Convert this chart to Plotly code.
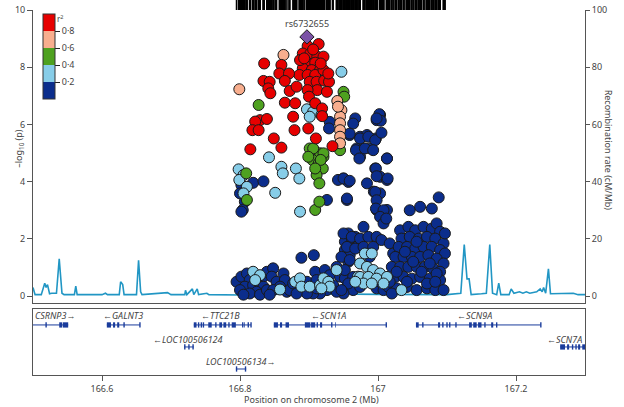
import plotly.graph_objects as go

# ---------------- data ----------------
lead_x = [166.897]
lead_y = [9.06]
lead_name = "rs6732655"

red_x = [166.898, 166.914, 166.891, 166.902, 166.912, 166.921, 166.896, 166.909, 166.891, 166.904,
         166.916, 166.886, 166.898, 166.909, 166.921, 166.901, 166.911, 166.922, 166.929, 166.912,
         166.926, 166.835, 166.860, 166.857, 166.871, 166.834, 166.843, 166.865, 166.841, 166.844,
         166.872, 166.882, 166.898, 166.900, 166.909, 166.919, 166.865, 166.880, 166.919, 166.829,
         166.839, 166.822, 166.818, 166.827, 166.877, 166.899, 166.910, 166.879, 166.849, 166.860,
         166.815, 166.934, 166.887, 166.906, 166.893, 166.917, 166.928]
red_y = [8.74, 8.81, 8.48, 8.48, 8.37, 8.37, 8.19, 8.16, 7.96, 7.90,
         7.90, 7.73, 7.73, 7.73, 7.90, 7.49, 7.49, 7.53, 7.49, 7.20,
         7.14, 8.13, 8.08, 7.78, 7.78, 7.52, 7.49, 7.52, 7.26, 7.09,
         7.17, 7.32, 7.20, 6.97, 6.74, 6.56, 6.76, 6.74, 6.29, 6.15,
         6.19, 6.10, 5.80, 5.80, 6.27, 5.86, 5.51, 5.80, 5.51, 5.19,
         5.13, 5.24, 8.25, 8.62, 8.31, 8.13, 7.78]

salmon_x = [166.863, 166.799, 166.941, 166.947, 166.945, 166.945, 166.945, 166.945, 166.945, 166.942]
salmon_y = [8.43, 7.23, 6.82, 6.50, 6.27, 6.04, 5.80, 5.57, 5.34, 6.62]

green_x = [166.827, 166.950, 166.951, 166.945, 166.901, 166.909, 166.916, 166.921, 166.905, 166.914,
           166.920, 166.911, 166.915, 166.906, 166.921, 166.899, 166.917, 166.909, 166.809, 166.810,
           166.909, 166.915]
green_y = [6.68, 7.14, 6.97, 5.10, 5.16, 5.05, 4.99, 4.87, 4.76, 4.64,
           4.46, 4.23, 3.94, 5.16, 4.99, 4.87, 4.76, 4.46, 4.29, 3.36,
           3.01, 3.30]

light_x = [166.947, 166.897, 166.906, 166.918, 166.901, 166.842, 166.860, 166.862, 166.881, 166.886,
           166.851, 166.887, 166.798, 166.805, 166.799, 166.810, 166.805,
           166.819, 166.829, 166.822, 166.858, 166.880, 166.887, 166.889, 166.901, 166.916, 166.921,
           166.928, 166.930, 166.940, 166.918, 166.971,
           166.981, 166.991, 166.974, 166.984, 166.993, 167.003, 166.974, 166.986, 166.998, 167.013,
           166.979, 166.991, 167.008, 166.967, 167.034]
light_y = [7.84, 6.53, 6.44, 6.33, 6.27, 4.85, 4.52, 4.29, 4.46, 4.11,
           3.61, 2.95, 4.43, 4.23, 4.06, 3.82, 3.59,
           0.85, 0.73, 0.56, 0.23, 0.50, 0.62, 0.33, 0.33, 0.38, 0.62,
           0.50, 0.33, 0.91, 0.27, 0.68,
           1.49, 1.49, 1.14, 1.02, 0.91, 0.79, 0.67, 0.67, 0.61, 0.67,
           0.44, 0.44, 0.44, 0.50, 0.21]

dark_x = [166.930, 166.929, 166.967, 167.003, 166.998, 166.959, 166.974, 166.984, 166.997, 166.969,
          166.979, 166.989, 166.974, 167.013, 166.996, 167.003, 166.950, 166.957, 166.942, 166.984,
          166.994, 167.003, 167.013, 166.955, 166.926, 166.819, 166.834, 166.802, 166.800, 166.807,
          166.804, 166.998, 167.007, 167.013,
          166.964, 167.002, 167.004, 166.998, 166.959, 166.974, 166.986, 166.996, 167.005, 166.968,
          166.981, 166.993, 166.973, 167.013, 166.997, 166.998, 167.014, 166.950, 166.959, 166.996,
          166.955, 166.998, 166.997, 167.008, 167.003, 167.008, 167.012, 167.088, 167.046, 167.061,
          167.078, 166.979, 166.967,
          166.802, 166.889, 166.907, 166.957, 166.952, 166.962, 166.952, 166.959, 166.957, 166.969,
          166.795, 166.802, 166.810, 166.814, 166.807, 166.819, 166.827, 166.834, 166.839, 166.848,
          166.846, 166.853, 166.863, 166.865, 166.858, 166.834, 166.824, 166.814, 166.829, 166.839,
          166.848, 166.868, 166.872, 166.800, 166.805, 166.843,
          166.877, 166.887, 166.897, 166.909, 166.911, 166.923, 166.930, 166.940, 166.945, 166.935,
          166.926, 166.916, 166.906, 166.897, 166.882, 166.955, 166.964, 166.950, 166.940, 166.971,
          166.911, 166.952,
          166.950, 166.962, 166.974, 166.986, 166.998, 167.005, 166.955, 166.967, 166.979, 166.947,
          166.959, 166.952, 166.964, 166.957, 166.947, 166.974, 166.998, 167.008, 167.003, 166.988,
          166.993, 167.017, 167.022,
          167.032, 167.044, 167.054, 167.066, 167.078, 167.085, 167.090, 167.034, 167.046, 167.059,
          167.071, 167.083, 167.095, 167.030, 167.042, 167.054, 167.066, 167.078, 167.090, 167.097,
          167.025, 167.037, 167.049, 167.061, 167.073, 167.085, 167.095, 167.020, 167.032, 167.044,
          167.056, 167.068, 167.080, 167.090, 167.025, 167.037, 167.049, 167.061, 167.075, 167.090,
          167.015, 167.027, 167.042, 167.056, 167.071, 167.083, 167.095, 167.020,
          167.039, 167.051, 167.063, 167.075, 167.085, 167.027, 167.056, 167.071, 167.042, 167.097,
          167.017, 167.083]
dark_y = [6.09, 5.86, 6.21, 6.33, 6.15, 5.63, 5.57, 5.63, 5.51, 5.16,
          5.16, 5.16, 4.87, 4.81, 4.46, 4.17, 4.11, 3.99, 4.06, 3.94,
          3.65, 3.59, 4.06, 3.36, 3.36, 3.96, 4.01, 3.88, 3.59, 3.30,
          3.01, 3.01, 2.83, 3.01,
          6.03, 6.36, 6.13, 6.21, 5.68, 5.51, 5.57, 5.45, 5.71, 5.10,
          5.16, 5.10, 4.81, 4.81, 4.46, 4.19, 4.11, 4.11, 4.03, 3.64,
          3.41, 3.35, 3.06, 3.00, 2.77, 2.54, 2.71, 3.45, 3.00, 3.12,
          3.06, 2.42, 2.07,
          2.95, 1.34, 1.43, 2.19, 1.90, 2.01, 1.61, 1.43, 1.20, 1.72,
          0.50, 0.68, 0.79, 0.56, 0.33, 0.38, 0.50, 0.68, 0.85, 0.97,
          0.68, 0.50, 0.79, 0.56, 0.33, 0.33, 0.15, 0.09, 0.05, 0.21,
          0.21, 0.15, 0.21, 0.21, 0.05, 0.05,
          0.44, 0.21, 0.50, 0.85, 0.56, 0.91, 0.73, 1.02, 0.68, 0.38,
          0.21, 0.09, 0.09, 0.09, 0.09, 0.33, 0.21, 0.09, 0.15, 0.50,
          0.27, 0.62,
          2.19, 2.07, 2.01, 2.07, 2.07, 1.96, 1.72, 1.66, 1.72, 1.37,
          1.26, 0.91, 0.67, 0.44, 0.21, 0.32, 0.27, 0.21, 0.50, 1.37,
          1.72, 1.84, 1.49,
          2.30, 2.42, 2.30, 2.42, 2.36, 2.54, 2.25, 2.01, 2.07, 2.01,
          2.07, 2.01, 1.84, 1.72, 1.72, 1.66, 1.72, 1.72, 1.61, 1.49,
          1.37, 1.37, 1.37, 1.37, 1.43, 1.31, 1.14, 1.02, 1.02, 1.02,
          1.02, 1.02, 0.96, 0.85, 0.67, 0.67, 0.61, 0.67, 0.61, 0.56,
          0.32, 0.27, 0.32, 0.21, 0.27, 0.21, 0.21, 0.09,
          1.55, 1.20, 0.85, 1.14, 0.79, 0.85, 1.90, 0.44, 0.50, 2.19,
          0.50, 0.50]

recomb_x = [166.500, 166.503, 166.512, 166.517, 166.519, 166.521, 166.524, 166.527, 166.534, 166.538,
            166.542, 166.545, 166.560, 166.562, 166.564, 166.600, 166.605, 166.608, 166.625, 166.627,
            166.630, 166.632, 166.650, 166.653, 166.656, 166.658, 166.695, 166.700, 166.720, 166.721,
            166.723, 166.731, 166.733, 166.738, 166.740, 166.752, 166.755, 166.800, 166.900, 166.950,
            167.000, 167.100, 167.120, 167.125, 167.129, 167.132, 167.135, 167.150, 167.157, 167.162,
            167.166, 167.172, 167.175, 167.178, 167.190, 167.193, 167.197, 167.205, 167.210, 167.215,
            167.220, 167.230, 167.235, 167.238, 167.240, 167.243, 167.247, 167.250, 167.260, 167.283,
            167.290, 167.300]
recomb_y = [3.0, 0.5, 0.5, 4.5, 3.0, 4.0, 0.8, 1.0, 1.0, 13.0,
            1.0, 0.5, 0.5, 3.5, 0.5, 0.5, 1.0, 0.5, 0.5, 5.0,
            4.0, 0.5, 0.5, 12.5, 1.5, 0.5, 1.2, 0.5, 0.5, 2.0,
            0.5, 2.5, 0.5, 2.5, 0.5, 1.0, 0.5, 0.4, 0.8, 0.8,
            0.6, 0.5, 1.0, 18.0, 6.0, 6.0, 0.5, 0.8, 1.0, 18.0,
            1.0, 0.5, 4.5, 0.5, 0.5, 2.5, 1.0, 1.5, 1.0, 1.5,
            1.0, 1.5, 2.5, 1.5, 3.0, 1.0, 9.5, 0.8, 0.8, 1.0,
            0.5, 0.5]

gene_names = ["CSRNP3", "GALNT3", "TTC21B", "LOC100506124", "LOC100506134", "SCN1A", "SCN9A", "SCN7A"]
gene_strand = ["+", "-", "-", "-", "+", "-", "-", "-"]
gene_row = [1, 1, 1, 2, 3, 1, 1, 2]
gene_start = [166.45, 166.607, 166.733, 166.719, 166.794, 166.849, 167.055, 167.264]
gene_end = [166.551, 166.655, 166.816, 166.733, 166.809, 167.012, 167.236, 167.35]
gene_label_x = [166.532, 166.630, 166.772, 166.725, 166.801, 166.928, 167.140, 167.270]
gene_exons = [
    [(166.518, 166.520), (166.538, 166.542), (166.543, 166.551)],
    [(166.607, 166.613), (166.616, 166.619), (166.622, 166.625), (166.631, 166.633), (166.654, 166.656)],
    [(166.733, 166.737), (166.739, 166.741), (166.743, 166.745), (166.746, 166.748), (166.754, 166.759),
     (166.764, 166.766), (166.770, 166.774), (166.776, 166.780), (166.783, 166.785), (166.788, 166.794),
     (166.803, 166.805), (166.806, 166.807), (166.811, 166.813), (166.815, 166.817)],
    [(166.719, 166.721), (166.725, 166.727), (166.731, 166.733)],
    [(166.794, 166.796), (166.807, 166.809)],
    [(166.849, 166.855), (166.858, 166.861), (166.866, 166.871), (166.894, 166.902), (166.903, 166.909),
     (166.911, 166.913), (166.916, 166.919), (166.932, 166.934), (166.938, 166.939), (167.011, 167.013)],
    [(167.055, 167.059), (167.064, 167.066), (167.087, 167.090), (167.093, 167.095), (167.099, 167.101),
     (167.103, 167.105), (167.112, 167.114), (167.132, 167.136), (167.138, 167.143), (167.145, 167.150),
     (167.154, 167.156), (167.164, 167.167), (167.171, 167.173), (167.235, 167.237)],
    [(167.264, 167.271), (167.274, 167.277), (167.281, 167.283), (167.286, 167.288), (167.290, 167.293),
     (167.296, 167.300)],
]

x_ticks = [166.6, 166.8, 167.0, 167.2]
x_ticklabels = ["166.6", "166.8", "167", "167.2"]
r2_ticks = [0.2, 0.4, 0.6, 0.8]
r2_ticklabels = ["0·2", "0·4", "0·6", "0·8"]

# ---------------- style ----------------
C_DARK = "#0b2d8c"
C_LIGHT = "#87cde8"
C_GREEN = "#4ea11f"
C_SALMON = "#f8ae8e"
C_RED = "#e60000"
C_PURPLE = "#7b52a6"
C_RECOMB = "#2196c4"
C_GENE = "#1a3c9c"
AX = "#555555"
TXT = "#444444"
FONT = "Noto Sans"
XR = [166.5, 167.3]
MS = 11

fig = go.Figure()

# recombination rate (base axis y, drawn beneath)
fig.add_trace(go.Scatter(x=recomb_x, y=recomb_y, mode="lines", xaxis="x", yaxis="y",
                         line=dict(color=C_RECOMB, width=1.6), hoverinfo="skip", showlegend=False))

mk_line = dict(color="#1a1a1a", width=1)
scale = [[0, C_DARK], [0.2, C_DARK], [0.2, C_LIGHT], [0.4, C_LIGHT], [0.4, C_GREEN], [0.6, C_GREEN],
         [0.6, C_SALMON], [0.8, C_SALMON], [0.8, C_RED], [1, C_RED]]

fig.add_trace(go.Scatter(
    x=dark_x, y=dark_y, mode="markers", xaxis="x", yaxis="y2", showlegend=False,
    marker=dict(size=MS, color=[0.1] * len(dark_x), cmin=0, cmax=1, colorscale=scale, line=mk_line,
                showscale=True,
                colorbar=dict(x=0.018, xanchor="left", y=0.989, yanchor="top", len=85, lenmode="pixels",
                              thickness=12, thicknessmode="pixels", xpad=0, ypad=0,
                              tickvals=r2_ticks, ticktext=r2_ticklabels, ticks="outside", ticklen=5,
                              tickcolor="#222", tickwidth=1,
                              tickfont=dict(family=FONT, size=9, color=TXT),
                              outlinewidth=1, outlinecolor="#333"))))
for xs, ys, col in [(light_x, light_y, C_LIGHT), (green_x, green_y, C_GREEN),
                    (salmon_x, salmon_y, C_SALMON), (red_x, red_y, C_RED)]:
    fig.add_trace(go.Scatter(x=xs, y=ys, mode="markers", xaxis="x", yaxis="y2", showlegend=False,
                             marker=dict(size=MS, color=col, line=mk_line)))
fig.add_trace(go.Scatter(x=lead_x, y=lead_y, mode="markers", xaxis="x", yaxis="y2", showlegend=False,
                         marker=dict(size=11, symbol="diamond", color=C_PURPLE, line=mk_line)))

annotations = [
    dict(x=lead_x[0], y=lead_y[0], xref="x", yref="y2", text=lead_name, showarrow=False, yshift=13,
         font=dict(family=FONT, size=9, color=TXT)),
    dict(x=0.0, y=0.997, xref="paper", yref="paper", text="r<sup>2</sup>", showarrow=False,
         xanchor="left", yanchor="top", xshift=22, font=dict(family=FONT, size=8, color=TXT)),
    dict(x=-0.042, y=0.622, xref="paper", yref="paper", text="–log<sub>10</sub> (p)", showarrow=False,
         textangle=-90, font=dict(family=FONT, size=9, color=TXT)),
    dict(x=1.058, y=0.616, xref="paper", yref="paper", text="Recombination rate (cM/Mb)", showarrow=False,
         textangle=90, font=dict(family=FONT, size=9, color=TXT)),
    dict(x=0.505, y=-0.0658, xref="paper", yref="paper", text="Position on chromosome 2 (Mb)",
         showarrow=False, yanchor="middle", font=dict(family=FONT, size=9, color=TXT)),
]

shapes = []
# rug of SNP positions above the plot
all_x = dark_x + light_x + green_x + salmon_x + red_x + lead_x
for sx in all_x:
    shapes.append(dict(type="line", xref="x", yref="paper", x0=sx, x1=sx, y0=1.0, y1=1.0274,
                       line=dict(color="black", width=1.6)))

for name, strand, row, s, e, lx, exons in zip(gene_names, gene_strand, gene_row, gene_start, gene_end,
                                              gene_label_x, gene_exons):
    shapes.append(dict(type="line", xref="x2", yref="y3", x0=max(s, XR[0]), x1=min(e, XR[1]), y0=row, y1=row,
                       line=dict(color=C_GENE, width=1)))
    for a, b in exons:
        shapes.append(dict(type="rect", xref="x2", yref="y3", x0=a, x1=min(b, XR[1]), y0=row - 0.12,
                           y1=row + 0.12, fillcolor=C_GENE, line=dict(width=0)))
    label = ("<i>%s</i>→" % name) if strand == "+" else ("←<i>%s</i>" % name)
    annotations.append(dict(x=lx, y=row, xref="x2", yref="y3", text=label, showarrow=False,
                            yshift=9 if row == 1 else 7, font=dict(family=FONT, size=9, color=TXT)))

fig.update_layout(
    width=624, height=407, margin=dict(l=33, r=39, t=10, b=32, autoexpand=False),
    paper_bgcolor="white", plot_bgcolor="white",
    font=dict(family=FONT, size=9, color=TXT),
    xaxis=dict(domain=[0, 1], anchor="y", range=XR, showticklabels=False, ticks="", showgrid=False,
               zeroline=False, showline=True, linecolor=AX, linewidth=1),
    yaxis=dict(domain=[0.197, 1], anchor="x", side="right", range=[-2.45, 100], tickvals=[0, 20, 40, 60, 80, 100],
               ticks="outside", ticklen=4, tickcolor=AX, showgrid=False, zeroline=False, showline=True,
               linecolor=AX, linewidth=1, tickfont=dict(family=FONT, size=9, color=TXT)),
    yaxis2=dict(overlaying="y", anchor="x", side="left", range=[-0.245, 10], tickvals=[0, 2, 4, 6, 8, 10],
                ticks="outside", ticklen=5, tickcolor=AX, showgrid=False, zeroline=False, showline=True,
                linecolor=AX, linewidth=1, tickfont=dict(family=FONT, size=9, color=TXT)),
    xaxis2=dict(domain=[0, 1], anchor="y3", range=XR, tickvals=x_ticks, ticktext=x_ticklabels,
                ticks="outside", ticklen=5, tickcolor=AX, showgrid=False, zeroline=False, showline=True,
                mirror=True, linecolor=AX, linewidth=1, tickfont=dict(family=FONT, size=9, color=TXT)),
    yaxis3=dict(domain=[0, 0.181], anchor="x2", range=[3.273, 0.273], showticklabels=False, ticks="",
                showgrid=False, zeroline=False, showline=True, mirror=True, linecolor=AX, linewidth=1),
    shapes=shapes, annotations=annotations,
)

fig.write_html("out.html", config={"displayModeBar": False},
               post_script="document.body.style.margin='0px';document.body.style.overflow='hidden';")
